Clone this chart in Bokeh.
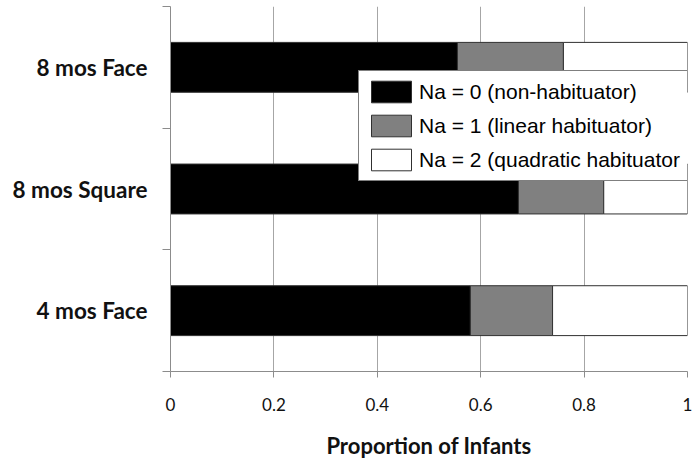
from bokeh.plotting import figure
from bokeh.models import ColumnDataSource, Range1d, FixedTicker, Legend
from bokeh.embed import file_html
from bokeh.resources import INLINE

# ---- data ----
groups = ["8 mos Face", "8 mos Square", "4 mos Face"]
group_pos = [2.5, 1.5, 0.5]
non_habituator = [0.555, 0.673, 0.580]
linear_habituator = [0.205, 0.165, 0.159]
quadratic_habituator = [0.240, 0.162, 0.261]
series_names = ["Na = 0 (non-habituator)", "Na = 1 (linear habituator)", "Na = 2 (quadratic habituator"]
series_colors = ["#000000", "#808080", "#ffffff"]
x_tick_values = [0, 0.2, 0.4, 0.6, 0.8, 1]
x_tick_labels = ["0", "0.2", "0.4", "0.6", "0.8", "1"]
x_title = "Proportion of Infants"

source = ColumnDataSource(dict(
    y=group_pos,
    s0=non_habituator,
    s1=linear_habituator,
    s2=quadratic_habituator,
))

p = figure(width=692, height=461, output_backend="svg", toolbar_location=None,
           x_range=Range1d(0, 1), y_range=Range1d(0, 3),
           min_border_left=170, min_border_right=5, min_border_top=6, min_border_bottom=88)
p.outline_line_color = None
p.background_fill_color = "white"
p.border_fill_color = "white"

renderers = p.hbar_stack(["s0", "s1", "s2"], y="y", height=0.41, source=source,
                         fill_color=series_colors, line_color="#303030", line_width=1)

legend = Legend(items=[(series_names[i], [renderers[i]]) for i in range(3)],
                location=(188, 190))
legend.border_line_color = "black"
legend.border_line_width = 1
legend.background_fill_color = "white"
legend.background_fill_alpha = 1
legend.padding = 7
legend.spacing = 7
legend.margin = 0
legend.glyph_width = 50
legend.glyph_height = 27
legend.label_height = 27
legend.label_width = 300
legend.label_standoff = 3
legend.label_text_font = "Liberation Sans"
legend.label_text_font_size = "21px"
legend.label_text_color = "black"
p.add_layout(legend, "center")

axis_gray = "#8c8c8c"
grid_gray = "#a6a6a6"

# x axis
xa = p.xaxis[0]
xa.ticker = FixedTicker(ticks=x_tick_values, minor_ticks=[])
xa.major_label_overrides = {v: l for v, l in zip(x_tick_values, x_tick_labels)}
xa.axis_line_color = axis_gray
xa.major_tick_line_color = axis_gray
xa.major_tick_out = 6
xa.major_tick_in = 0
xa.minor_tick_line_color = None
xa.major_label_standoff = 20
xa.major_label_text_font = "Lato"
xa.major_label_text_font_size = "17px"
xa.major_label_text_color = "#111111"
xa.axis_label = x_title
xa.axis_label_text_font = "Lato"
xa.axis_label_text_font_style = "bold"
xa.axis_label_text_font_size = "22px"
xa.axis_label_text_color = "#111111"
xa.axis_label_standoff = 18

# y axis
ya = p.yaxis[0]
ya.ticker = FixedTicker(ticks=group_pos, minor_ticks=[0, 1, 2, 3])
ya.major_label_overrides = {v: g for v, g in zip(group_pos, groups)}
ya.axis_line_color = axis_gray
ya.major_tick_line_color = None
ya.major_tick_out = 0
ya.major_tick_in = 0
ya.minor_tick_line_color = axis_gray
ya.minor_tick_out = 8
ya.minor_tick_in = 0
ya.major_label_standoff = 15
ya.major_label_text_font = "Lato"
ya.major_label_text_font_style = "bold"
ya.major_label_text_font_size = "22.5px"
ya.major_label_text_color = "#111111"

p.xgrid.ticker = FixedTicker(ticks=x_tick_values[1:], minor_ticks=[])
p.xgrid.grid_line_color = grid_gray
p.ygrid.grid_line_color = None

open("out.html", "w").write(file_html(p, INLINE))
